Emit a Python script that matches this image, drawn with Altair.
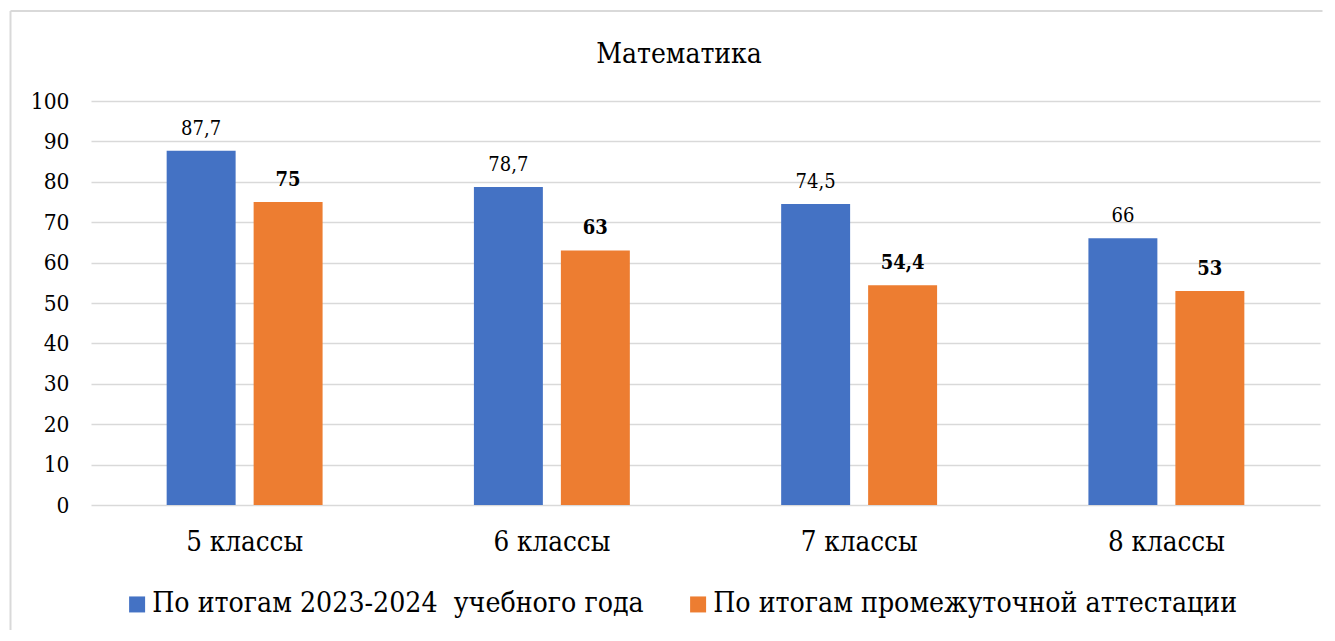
import altair as alt
import pandas as pd

categories = ["5 классы", "6 классы", "7 классы", "8 классы"]
series = ["По итогам 2023-2024\u00a0 учебного года", "По итогам промежуточной аттестации"]
year_values = [87.7, 78.7, 74.5, 66]
attest_values = [75, 63, 54.4, 53]
colors = ["#4472C4", "#ED7D31"]
y_ticks = list(range(0, 101, 10))
title_text = "Математика"

rows = []
for c, a, b in zip(categories, year_values, attest_values):
    rows.append({"cat": c, "series": series[0], "value": a})
    rows.append({"cat": c, "series": series[1], "value": b})
df = pd.DataFrame(rows)

W, H = 1229, 404
FONT = "DejaVu Serif Condensed"

base = alt.Chart(df).transform_calculate(
    label="replace(toString(datum.value), '.', ',')"
)

x = alt.X("cat:N", sort=categories,
          scale=alt.Scale(paddingInner=0, paddingOuter=0),
          axis=alt.Axis(title=None, labelAngle=0, labelFontSize=27.5, labelFont=FONT,
                        labelColor="#000000", labelPadding=23, ticks=False, domain=False))
xo = alt.XOffset("series:N", sort=series,
                 scale=alt.Scale(paddingInner=0.207, paddingOuter=0.87))
y = alt.Y("value:Q", scale=alt.Scale(domain=[0, 100]),
          axis=alt.Axis(title=None, values=y_ticks, grid=True, gridColor="#d9d9d9",
                        gridWidth=1.5, ticks=False, domain=False, labelFontSize=22.5,
                        labelFont=FONT, labelColor="#000000", labelPadding=22))

bars = base.mark_bar().encode(
    x=x, xOffset=xo, y=y,
    color=alt.Color("series:N", sort=series,
                    scale=alt.Scale(domain=series, range=colors),
                    legend=alt.Legend(title=None, orient="none", legendX=32, legendY=489,
                                      direction="horizontal", symbolType="square",
                                      symbolSize=256, symbolStrokeWidth=0,
                                      labelFontSize=28.2, labelFont=FONT, labelColor="#000000",
                                      labelOffset=1, columnPadding=40, labelLimit=800))
)

labels_year = base.transform_filter(alt.datum.series == series[0]).mark_text(
    font=FONT, fontSize=20, color="#000000", baseline="alphabetic", dy=-16
).encode(x=x, xOffset=xo, y=y, text="label:N")

labels_att = base.transform_filter(alt.datum.series == series[1]).mark_text(
    font=FONT, fontSize=20, fontWeight="bold", color="#000000", baseline="alphabetic", dy=-16
).encode(x=x, xOffset=xo, y=y, text="label:N")

frame_left = alt.Chart(pd.DataFrame({"k": [0]})).mark_rule(color="#d9d9d9", strokeWidth=2).encode(
    x=alt.value(-80.5), y=alt.value(-90), y2=alt.value(529)
)
frame_top = alt.Chart(pd.DataFrame({"k": [0]})).mark_rule(color="#d9d9d9", strokeWidth=2).encode(
    y=alt.value(-90), x=alt.value(-80.5), x2=alt.value(1231.5)
)

chart = alt.layer(bars, labels_year, labels_att, frame_left, frame_top).properties(
    width=W, height=H,
    padding={"left": 1, "top": 2, "right": 0, "bottom": 0},
    title=alt.TitleParams(title_text, font=FONT, fontSize=28, fontWeight="normal",
                          color="#000000", anchor="middle", frame="group", dx=-26.5,
                          offset=-58.5)
).configure_view(stroke=None)

chart.save("out.html", embed_options={"renderer": "svg", "actions": False})
